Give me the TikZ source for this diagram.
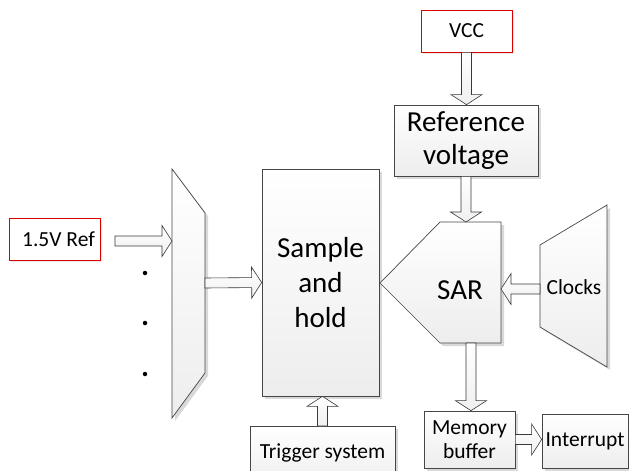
\documentclass[tikz,border=0pt]{standalone}
\usepackage{fontspec}
\setmainfont{Carlito}
\usetikzlibrary{calc,shadows}
\tikzset{
  blk/.style={draw=gray!55!black, line width=0.7pt, top color=white, bottom color=gray!14,
    drop shadow={shadow xshift=3pt, shadow yshift=-3pt, fill=gray!30, opacity=1}},
  redbox/.style={draw=red!85!black, line width=0.7pt, fill=white, inner sep=0pt,
    drop shadow={shadow xshift=2pt, shadow yshift=-2pt, fill=gray!18, opacity=1}},
  barrow/.style={draw=gray!45!black, line width=0.6pt, top color=white, bottom color=gray!12},
  bigtext/.style={font=\fontsize{29}{35}\selectfont, align=center},
  smalltext/.style={font=\fontsize{21.5}{24}\selectfont, align=center},
  dotmark/.style={fill=black, inner sep=0pt, minimum size=4.5pt, circle}
}
\newcommand\blockarrow[2]{%
  \coordinate (hb) at ($(#2)!10pt!(#1)$);
  \path[barrow] ($(#1)!5pt!90:(#2)$) -- ($(hb)!5pt!90:(#2)$) -- ($(hb)!15.5pt!90:(#2)$) -- (#2)
    -- ($(hb)!15.5pt!-90:(#2)$) -- ($(hb)!5pt!-90:(#2)$) -- ($(#1)!5pt!-90:(#2)$) -- cycle;}
\begin{document}
\begin{tikzpicture}[x=1pt,y=-1pt]
\useasboundingbox (0,0) rectangle (629,471);
\begin{scope}
\clip (0,0) rectangle (629,471);
% red input boxes
\node[redbox, smalltext, minimum width=91pt, minimum height=42pt] (ref15) at (54.5,239) {\hspace*{8pt}1.5V Ref};
\node[redbox, smalltext, minimum width=91pt, minimum height=42pt] (vcc) at (466.5,31) {VCC};
% rectangular blocks
\node[blk, bigtext, font=\fontsize{29}{33}\selectfont, minimum width=144pt, minimum height=71pt, inner sep=0pt] (refv) at (466,140.5) {Reference\\voltage};
\node[blk, bigtext, minimum width=117pt, minimum height=227pt, inner sep=0pt] (sh) at (320.5,282.5) {Sample\\and\\hold};
\node[blk, smalltext, minimum width=145pt, minimum height=60pt, inner sep=0pt, anchor=north] (trig) at (322.5,426) {\raisebox{10pt}{Trigger system}};
\node[blk, smalltext, minimum width=91pt, minimum height=57pt, inner sep=0pt] (mem) at (469.5,439.5) {Memory\\buffer};
\node[blk, smalltext, minimum width=86pt, minimum height=54pt, inner sep=0pt] (intr) at (585,441) {Interrupt};
% multiplexer
\coordinate (mtl) at (172,169); \coordinate (mtr) at (205,213);
\coordinate (mbr) at (205,373); \coordinate (mbl) at (172,418);
\path[blk] (mtl) -- (mtr) -- (mbr) -- (mbl) -- cycle;
% SAR
\coordinate (s1) at (501,222); \coordinate (s2) at (440,222); \coordinate (s3) at (380,283);
\coordinate (s4) at (440,343); \coordinate (s5) at (501,343);
\path[blk] (s1) -- (s2) -- (s3) -- (s4) -- (s5) -- cycle;
\node[bigtext, inner sep=0pt] (sar) at (460,290) {SAR};
% Clocks
\coordinate (c1) at (607,205); \coordinate (c2) at (540,245);
\coordinate (c3) at (540,327); \coordinate (c4) at (607,367);
\path[blk] (c1) -- (c2) -- (c3) -- (c4) -- cycle;
\node[smalltext, inner sep=0pt] (clk) at (574,287) {Clocks};
% dots
\node[dotmark] (d1) at (145,273) {};
\node[dotmark] (d2) at (145,323) {};
\node[dotmark] (d3) at (145,374) {};
% arrow end points
\coordinate (a1s) at (115,241); \coordinate (a1e) at (172,241);
\coordinate (a2s) at (205,283); \coordinate (a2e) at (sh.west);
\coordinate (a3s) at (trig.north); \coordinate (a3e) at (sh.south -| trig.north);
\coordinate (a4s) at (vcc.south); \coordinate (a4e) at (refv.north -| vcc.south);
\coordinate (a5s) at (refv.south); \coordinate (a5e) at (466,222);
\coordinate (a6s) at (540,289); \coordinate (a6e) at (501,289);
\coordinate (a7s) at (471,343); \coordinate (a7e) at (mem.north -| 471,0);
\coordinate (a8s) at (mem.east); \coordinate (a8e) at (intr.west |- mem.east);
\blockarrow{a1s}{a1e}
\blockarrow{a2s}{a2e}
\blockarrow{a3s}{a3e}
\blockarrow{a4s}{a4e}
\blockarrow{a5s}{a5e}
\blockarrow{a6s}{a6e}
\blockarrow{a7s}{a7e}
\blockarrow{a8s}{a8e}
\end{scope}
\end{tikzpicture}
\end{document}
